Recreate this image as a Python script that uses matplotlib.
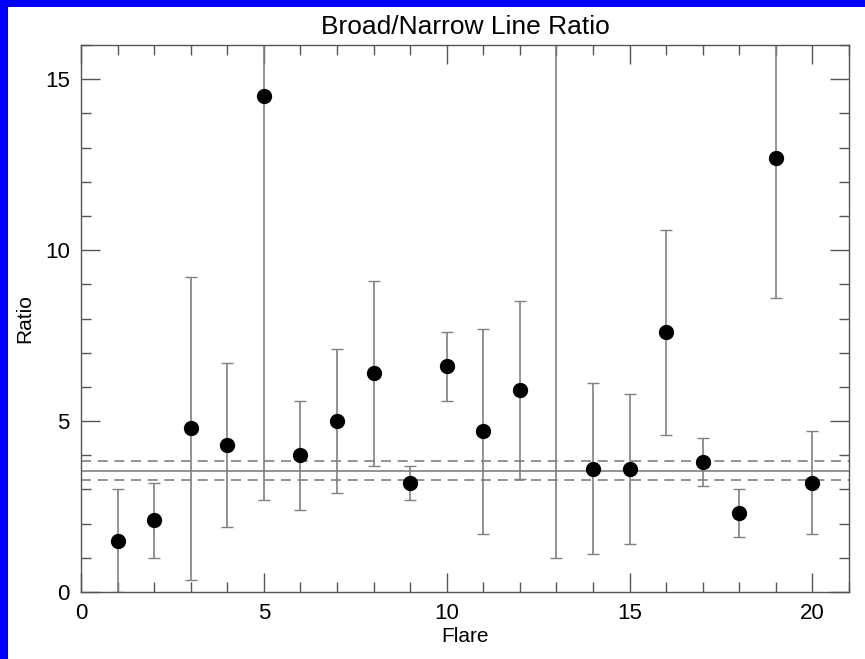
import numpy as np
import matplotlib
matplotlib.use("Agg")
import matplotlib.pyplot as plt
from matplotlib.ticker import MultipleLocator
from matplotlib.patches import Rectangle

# values
flare = [1, 2, 3, 4, 5, 6, 7, 8, 9, 10, 11, 12, 13, 14, 15, 16, 17, 18, 19, 20]
ratio = [1.5, 2.1, 4.8, 4.3, 14.5, 4.0, 5.0, 6.4, 3.2, 6.6,
         4.7, 5.9, 18.0, 3.6, 3.6, 7.6, 3.8, 2.3, 12.7, 3.2]
err_lo = [0.0, 1.0, 0.35, 1.9, 2.7, 2.4, 2.9, 3.7, 2.7, 5.6,
          1.7, 3.3, 1.0, 1.1, 1.4, 4.6, 3.1, 1.6, 8.6, 1.7]
err_hi = [3.0, 3.2, 9.2, 6.7, 20.0, 5.6, 7.1, 9.1, 3.7, 7.6,
          7.7, 8.5, 25.0, 6.1, 5.8, 10.6, 4.5, 3.0, 20.0, 4.7]
mean_ratio = 3.55
mean_band = [3.27, 3.83]

plt.rcParams['font.family'] = ['Liberation Sans', 'DejaVu Sans']

fig = plt.figure(figsize=(8.65, 6.59), dpi=100)
fig.patch.set_facecolor('#0000ff')
# white page inside the blue frame (left and top strips stay blue)
fig.patches.append(Rectangle((8 / 865, 0), 1, 1 - 7 / 659, transform=fig.transFigure,
                             facecolor='white', edgecolor='none', zorder=-10))

ax = fig.add_axes([81 / 865, 67 / 659, (849 - 81) / 865, (592 - 45) / 659])
ax.set_facecolor('white')

r = np.array(ratio)
yerr = [r - np.array(err_lo), np.array(err_hi) - r]
ax.errorbar(flare, ratio, yerr=yerr, fmt='none', ecolor='#808080', elinewidth=1.2,
            capsize=4, capthick=1.0, zorder=2)
ax.plot(flare, ratio, 'o', color='black', markersize=10, zorder=3)

ax.axhline(mean_ratio, color='#808080', lw=1.2, zorder=1)
for v in mean_band:
    ax.axhline(v, color='#808080', lw=1.2, ls=(0, (6, 4)), zorder=1)

ax.set_xlim(0, 21)
ax.set_ylim(0, 16)
ax.xaxis.set_major_locator(MultipleLocator(5))
ax.xaxis.set_minor_locator(MultipleLocator(1))
ax.yaxis.set_major_locator(MultipleLocator(5))
ax.yaxis.set_minor_locator(MultipleLocator(1))
ax.tick_params(which='both', direction='in', top=True, right=True,
               color='#555555', labelsize=16, labelcolor='black')
ax.tick_params(which='major', length=14, width=1, pad=8)
ax.tick_params(which='minor', length=7, width=1)
for s in ax.spines.values():
    s.set_color('#555555')
    s.set_linewidth(1)

ax.set_title('Broad/Narrow Line Ratio', fontsize=19, pad=8)
ax.set_xlabel('Flare', fontsize=15, labelpad=2)
ax.set_ylabel('Ratio', fontsize=15, labelpad=8)

fig.savefig('out.png', dpi=100, facecolor=fig.get_facecolor())
